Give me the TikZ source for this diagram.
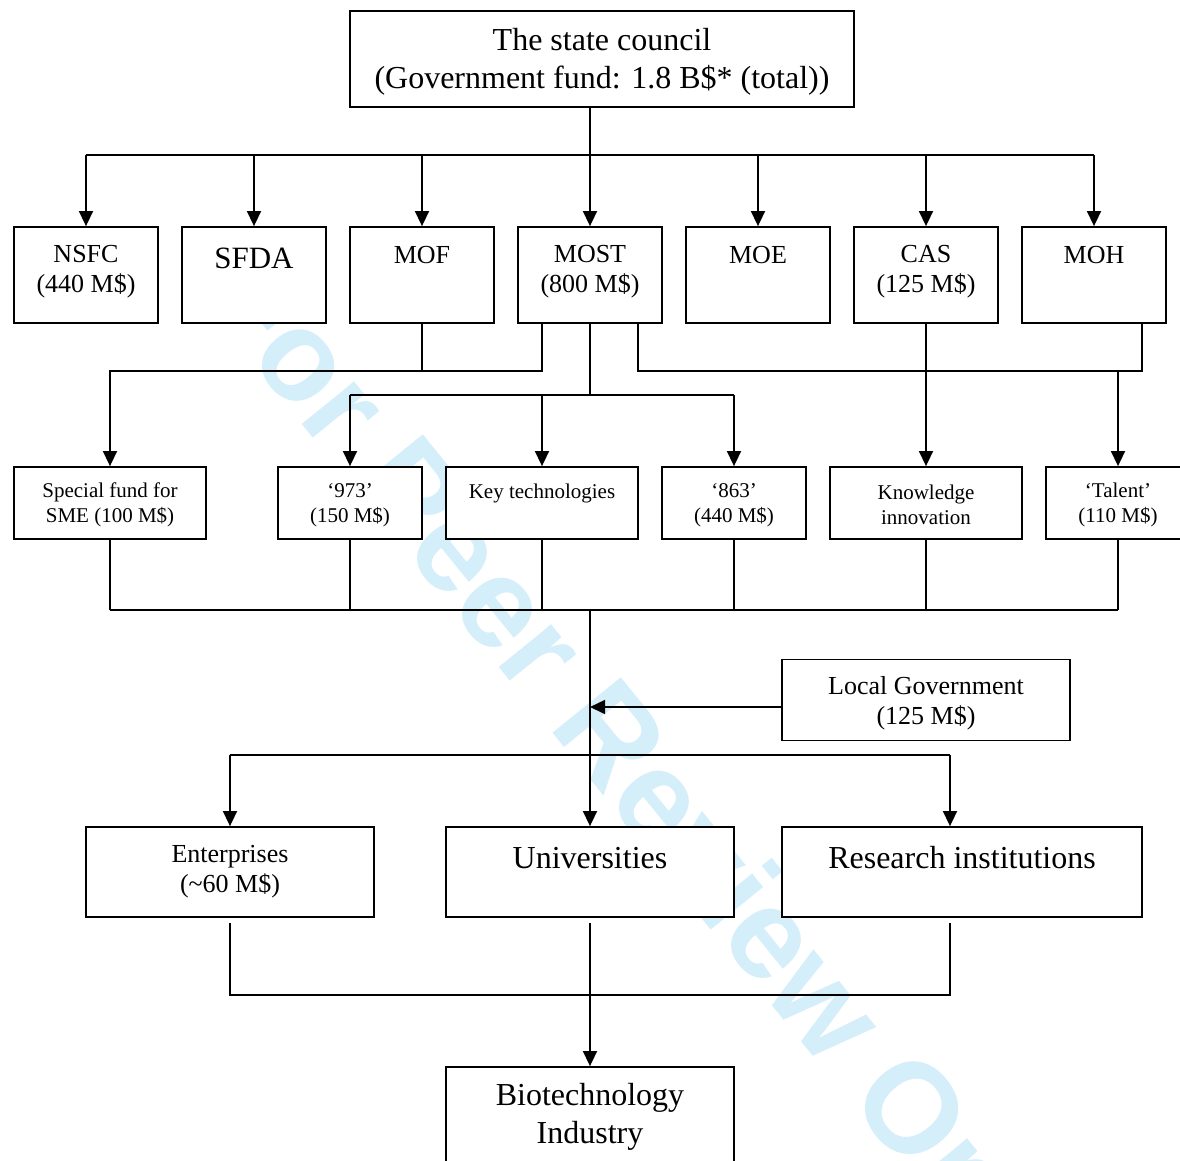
\documentclass[tikz,border=0pt]{standalone}
\usepackage{fontspec}
\setmainfont{Liberation Serif}
\newfontfamily\wmfont{Liberation Sans}
\usetikzlibrary{arrows.meta}
\definecolor{wm}{RGB}{212,238,250}
\tikzset{
  box/.style={draw, line width=1.8pt, fill=white, inner sep=0pt},
  wire/.style={line width=1.5pt},
  arr/.style={wire, -{Triangle[length=15pt,width=14pt]}},
  bigt/.style={font=\fontsize{32}{38}\selectfont, align=center, inner sep=0pt},
  midt/.style={font=\fontsize{26}{30}\selectfont, align=center, inner sep=0pt},
  smallt/.style={font=\fontsize{21}{25}\selectfont, align=center, inner sep=0pt},
  wmstyle/.style={font=\wmfont\bfseries\fontsize{128}{128}\selectfont, text=wm, inner sep=0pt},
  rowone/.style={box, minimum width=144pt, minimum height=96pt},
  rowtwo/.style={box, minimum height=72pt},
}
\begin{document}
\begin{tikzpicture}[x=1pt,y=-1pt]
\useasboundingbox (0,0) rectangle (1180,1160);
% watermark
\node[wmstyle, rotate=-51, anchor=base] (wmark) at (612,807) {For Peer Review Only};

% top
\node[box, minimum width=504pt, minimum height=96pt] (top) at (602,59) {};
\node[bigt] (topt) at (602,62) {The state council\\(Government fund: 1.8 B\$* (total))};

% row 1
\node[rowone] (nsfc) at (86,275) {};
\node[rowone] (sfda) at (254,275) {};
\node[rowone] (mof) at (422,275) {};
\node[rowone] (most) at (590,275) {};
\node[rowone] (moe) at (758,275) {};
\node[rowone] (cas) at (926,275) {};
\node[rowone] (moh) at (1094,275) {};
\node[midt] (nsfct) at (86,272) {NSFC\\(440 M\$)};
\node[bigt, font=\fontsize{31}{36}\selectfont] (sfdat) at (254,258) {SFDA};
\node[midt] (moft) at (422,255) {MOF};
\node[midt] (mostt) at (590,272) {MOST\\(800 M\$)};
\node[midt] (moet) at (758,255) {MOE};
\node[midt] (cast) at (926,272) {CAS\\(125 M\$)};
\node[midt] (moht) at (1094,255) {MOH};

% row 2
\node[rowtwo, minimum width=192pt] (sme) at (110,503) {};
\node[rowtwo, minimum width=144pt] (p973) at (350,503) {};
\node[rowtwo, minimum width=192pt] (key) at (542,503) {};
\node[rowtwo, minimum width=144pt] (p863) at (734,503) {};
\node[rowtwo, minimum width=192pt] (know) at (926,503) {};
\node[rowtwo, minimum width=144pt] (talent) at (1118,503) {};
\node[smallt] (smet) at (110,505) {Special fund for\\SME (100 M\$)};
\node[smallt] (p973t) at (350,505) {‘973’\\(150 M\$)};
\node[smallt] (keyt) at (542,493) {Key technologies};
\node[smallt] (p863t) at (734,505) {‘863’\\(440 M\$)};
\node[smallt] (knowt) at (926,505) {Knowledge\\innovation};
\node[smallt] (talentt) at (1118,505) {‘Talent’\\(110 M\$)};

% local government
\node[box, minimum width=288pt, minimum height=81pt] (local) at (926,700) {};
\node[midt] (localt) at (926,703) {Local Government\\(125 M\$)};

% row 3
\node[box, minimum width=288pt, minimum height=90pt] (ent) at (230,872) {};
\node[box, minimum width=288pt, minimum height=90pt] (univ) at (590,872) {};
\node[box, minimum width=360pt, minimum height=90pt] (res) at (962,872) {};
\node[midt] (entt) at (230,872) {Enterprises\\(\textasciitilde60 M\$)};
\node[bigt] (univt) at (590,858) {Universities};
\node[bigt] (rest) at (962,858) {Research institutions};

% bottom
\node[box, minimum width=288pt, minimum height=110pt] (bio) at (590,1122) {};
\node[bigt] (biot) at (590,1117) {Biotechnology\\Industry};

% bus coordinates
\coordinate (bus1) at (0,155);
\coordinate (bus2) at (0,371);
\coordinate (bus3) at (0,395);
\coordinate (bus4) at (0,610);
\coordinate (bus5) at (0,755);
\coordinate (bus6) at (0,995);

% top to row 1
\draw[arr] (top.south -| most.north) -- (most.north);
\draw[wire] (nsfc.north |- bus1) -- (moh.north |- bus1);
\foreach \n in {nsfc,sfda,mof,moe,cas,moh}
  \draw[arr] (\n.north |- bus1) -- (\n.north);

% row 1 to row 2
\draw[wire] (mof.south) -- (mof.south |- bus2);
\draw[arr] ([xshift=-48pt]most.south) -- ([xshift=-48pt]most.south |- bus2) -| (sme.north);
\draw[wire] (most.south) -- (most.south |- bus3);
\draw[wire] (p973.north |- bus3) -- (p863.north |- bus3);
\foreach \n in {p973,key,p863}
  \draw[arr] (\n.north |- bus3) -- (\n.north);
\draw[wire] ([xshift=48pt]most.south) -- ([xshift=48pt]most.south |- bus2) -- ([xshift=48pt]moh.south |- bus2) -- ([xshift=48pt]moh.south);
\draw[arr] (talent.north |- bus2) -- (talent.north);
\draw[arr] (cas.south) -- (know.north);

% row 2 to bus4
\foreach \n in {sme,p973,key,p863,know,talent}
  \draw[wire] (\n.south) -- (\n.south |- bus4);
\draw[wire] (sme.south |- bus4) -- (talent.south |- bus4);

% to row 3
\draw[arr] (most.south |- bus4) -- (univ.north);
\draw[arr] ([yshift=-7pt]local.west) -- ([yshift=-7pt]local.west -| univ.north);
\draw[wire] (ent.north |- bus5) -- ([xshift=-12pt]res.north |- bus5);
\draw[arr] (ent.north |- bus5) -- (ent.north);
\draw[arr] ([xshift=-12pt]res.north |- bus5) -- ([xshift=-12pt]res.north);

% row 3 to bottom
\draw[wire] ([yshift=-5pt]ent.south) -- (ent.south |- bus6) -- ([xshift=-12pt]res.south |- bus6) -- ([xshift=-12pt,yshift=-5pt]res.south);
\draw[arr] ([yshift=-5pt]univ.south) -- (bio.north);
\end{tikzpicture}
\end{document}
